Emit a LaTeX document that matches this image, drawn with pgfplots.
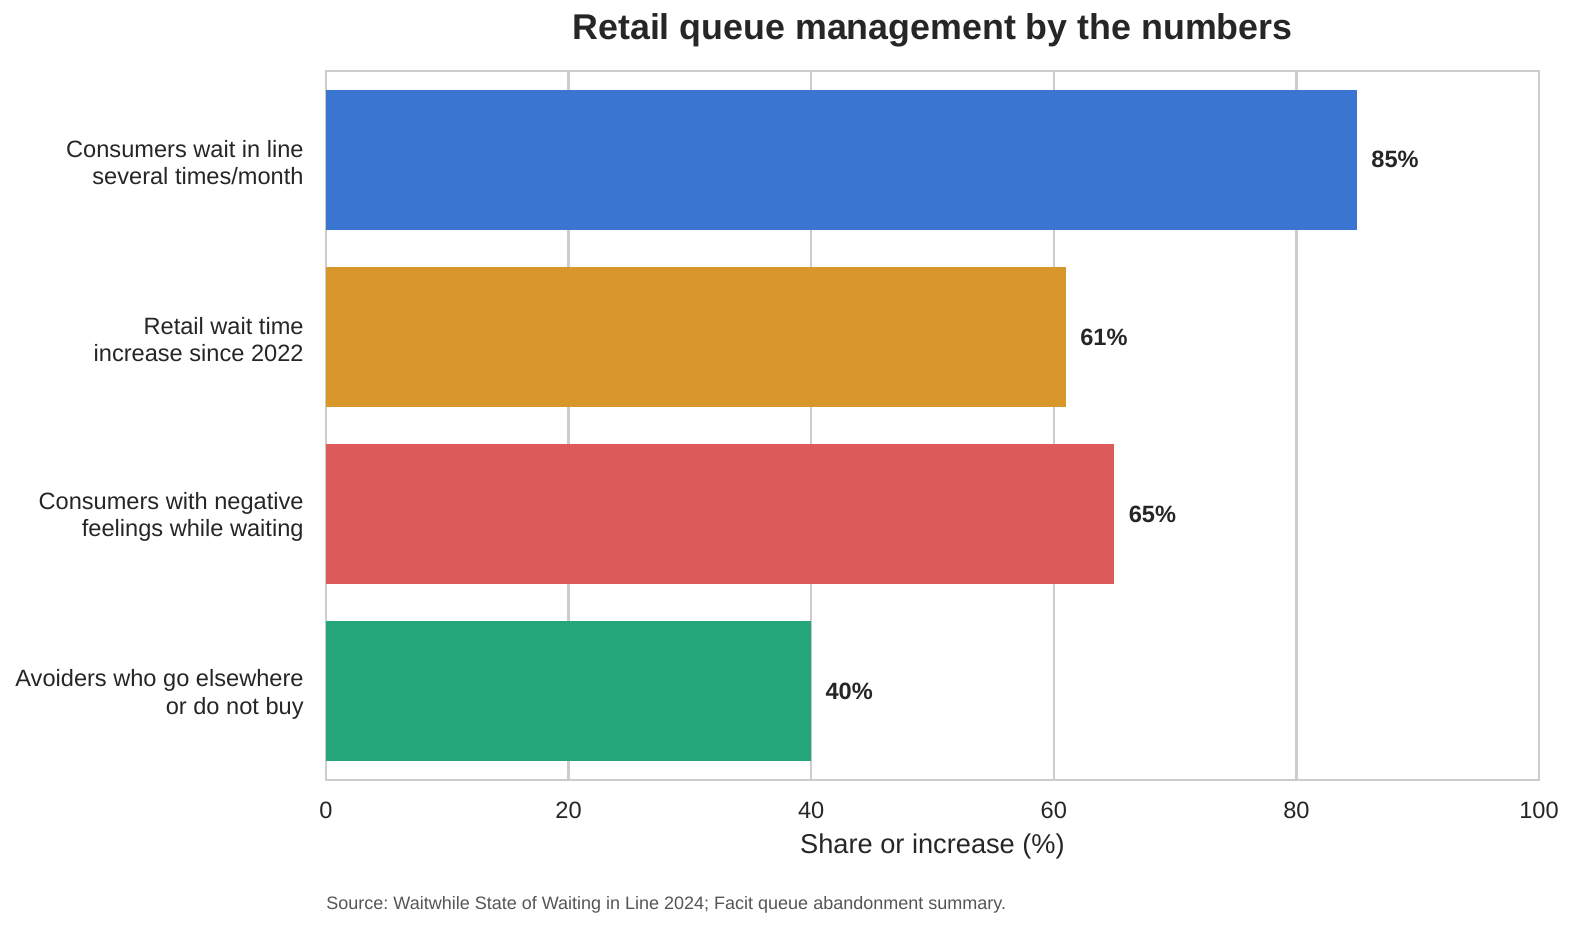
\documentclass[border=0pt]{standalone}
\usepackage{pgfplots}
\pgfplotsset{compat=1.18}
\usepackage{fontspec}
\setmainfont{Liberation Sans}
\frenchspacing

\definecolor{txt}{HTML}{262626}
\definecolor{gridgray}{HTML}{CCCCCC}
\definecolor{cblue}{HTML}{3A75D1}
\definecolor{corange}{HTML}{D9962A}
\definecolor{cred}{HTML}{DC5A5A}
\definecolor{cgreen}{HTML}{24A67A}
\definecolor{srcgray}{HTML}{555555}

\begin{document}
\begin{tikzpicture}
\begin{axis}[
  at={(0,0)}, anchor=south west,
  scale only axis,
  width=606.5pt, height=354.5pt,
  xbar, bar width=0.79, bar shift=0pt,
  xmin=0, xmax=100,
  ymin=-0.5, ymax=3.5, y dir=reverse,
  xtick={0,20,...,100},
  ytick={0,1,2,3},
  yticklabels={Consumers wait in line\\several times/month,
               Retail wait time\\increase since 2022,
               Consumers with negative\\feelings while waiting,
               Avoiders who go elsewhere\\or do not buy},
  yticklabel style={align=right, inner sep=0pt, xshift=-11pt, yshift=-1.5pt, font=\fontsize{11.8pt}{13.6pt}\selectfont, text=txt},
  xticklabel style={inner sep=0pt, yshift=-11pt, font=\fontsize{11.8pt}{14pt}\selectfont, text=txt},
  /pgf/number format/assume math mode=true,
  major tick length=0pt,
  xmajorgrids, ymajorgrids=false,
  major grid style={gridgray, line width=1.1pt},
  axis line style={gridgray, line width=1.25pt},
  clip=false,
  point meta=x,
  nodes near coords={\pgfmathprintnumber{\pgfplotspointmeta}\%},
  nodes near coords style={anchor=west, inner sep=0pt, xshift=7pt,
    font=\fontsize{11.8pt}{14pt}\selectfont\bfseries, text=txt},
]
\addplot[fill=cblue, draw=none] coordinates {(85,0)};
\addplot[fill=corange, draw=none] coordinates {(61,1)};
\addplot[fill=cred, draw=none] coordinates {(65,2)};
\addplot[fill=cgreen, draw=none] coordinates {(40,3)};

\node[anchor=center, font=\fontsize{17.9pt}{21pt}\selectfont\bfseries, text=txt]
  at ([yshift=20.5pt]rel axis cs:0.5,1) {Retail queue management by the numbers};
\node[anchor=center, font=\fontsize{13.6pt}{16pt}\selectfont, text=txt]
  at ([yshift=-33pt]rel axis cs:0.5,0) {Share or increase (\%)};
\node[anchor=base west, inner sep=0pt, font=\fontsize{9pt}{11pt}\selectfont, text=srcgray]
  at ([yshift=-64.5pt]rel axis cs:0,0) {Source: Waitwhile State of Waiting in Line 2024; Facit queue abandonment summary.};
\end{axis}
\pgfresetboundingbox
\path[use as bounding box] (-163pt,-74pt) rectangle (624pt,390pt);
\end{tikzpicture}
\end{document}
